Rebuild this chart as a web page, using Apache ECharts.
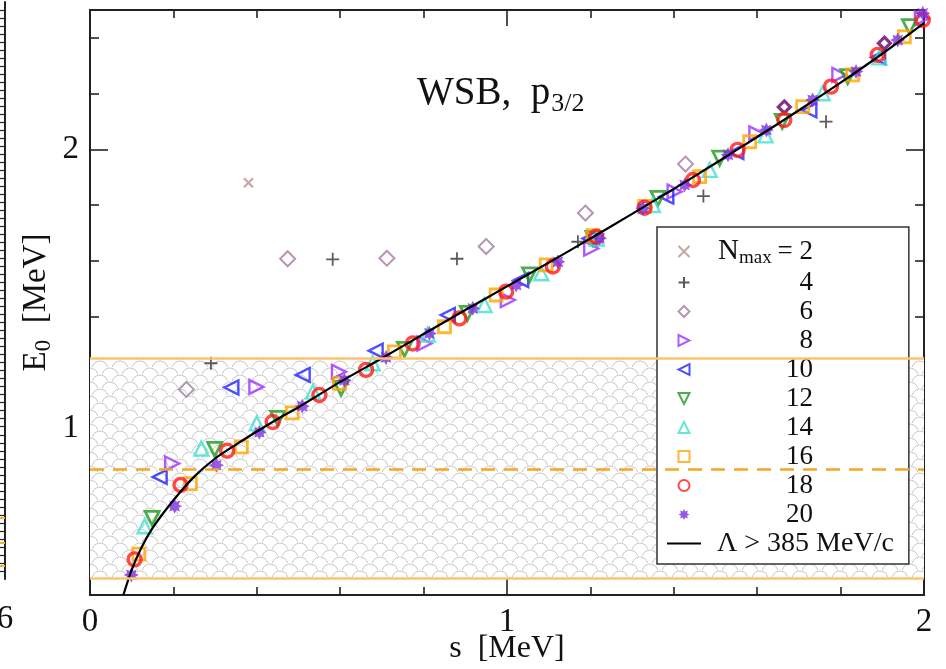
<!DOCTYPE html>
<html>
<head>
<meta charset="utf-8">
<script src="https://cdn.jsdelivr.net/npm/echarts@6/dist/echarts.min.js"></script>
<style>
html, body { margin: 0; padding: 0; background: #fff; }
#chart { width: 946px; height: 669px; }
</style>
</head>
<body>
<div id="chart"></div>
<script>
// points are [s, E0] in MeV, one list per Nmax
const nmax2 = [[0.38, 1.88]]
const nmax4 = [[0.29, 1.232], [0.582, 1.605], [0.88, 1.607], [1.17, 1.668], [1.471, 1.832], [1.765, 2.099]]
const nmax6 = [[0.231, 1.138], [0.474, 1.607], [0.712, 1.609], [0.95, 1.651], [1.188, 1.771], [1.428, 1.947]]
const nmax6b = [[1.665, 2.152], [1.905, 2.381]]
const nmax8 = [[0.197, 0.872], [0.399, 1.147], [0.597, 1.201], [0.802, 1.303], [1.002, 1.459], [1.202, 1.644], [1.402, 1.848], [1.598, 2.057], [1.797, 2.267], [1.995, 2.47]]
const nmax10 = [[0.167, 0.824], [0.339, 1.145], [0.51, 1.19], [0.685, 1.277], [0.858, 1.405], [1.034, 1.531], [1.198, 1.68], [1.382, 1.83], [1.55, 1.99], [1.725, 2.14], [1.89, 2.33]]
const nmax12 = [[0.149, 0.675], [0.299, 0.923], [0.45, 1.034], [0.602, 1.142], [0.754, 1.282], [0.905, 1.411], [1.054, 1.549], [1.206, 1.68], [1.362, 1.824], [1.51, 1.968], [1.66, 2.1], [1.817, 2.261], [1.965, 2.44]]
const nmax14 = [[0.131, 0.647], [0.267, 0.926], [0.4, 1.016], [0.535, 1.13], [0.678, 1.232], [0.81, 1.335], [0.946, 1.441], [1.082, 1.555], [1.215, 1.68], [1.35, 1.8], [1.486, 1.926], [1.62, 2.05], [1.757, 2.201], [1.893, 2.33]]
const nmax16 = [[0.117, 0.547], [0.241, 0.8], [0.363, 0.932], [0.485, 1.054], [0.598, 1.16], [0.73, 1.273], [0.85, 1.363], [0.974, 1.477], [1.094, 1.585], [1.206, 1.69], [1.33, 1.795], [1.462, 1.902], [1.582, 2.027], [1.709, 2.153], [1.829, 2.267], [1.953, 2.404]]
const nmax18 = [[0.107, 0.528], [0.217, 0.795], [0.329, 0.918], [0.438, 1.021], [0.55, 1.118], [0.662, 1.208], [0.774, 1.303], [0.886, 1.393], [0.998, 1.489], [1.11, 1.579], [1.214, 1.686], [1.33, 1.79], [1.446, 1.89], [1.553, 1.998], [1.665, 2.105], [1.777, 2.225], [1.889, 2.339], [1.997, 2.464]]
const nmax20 = [[0.099, 0.472], [0.203, 0.719], [0.303, 0.866], [0.406, 0.984], [0.509, 1.078], [0.61, 1.171], [0.71, 1.253], [0.814, 1.339], [0.918, 1.429], [1.022, 1.513], [1.122, 1.596], [1.222, 1.681], [1.326, 1.788], [1.426, 1.872], [1.53, 1.98], [1.622, 2.069], [1.733, 2.177], [1.837, 2.279], [1.937, 2.392], [1.997, 2.488]]

// Lambda > 385 MeV/c curve
const curveS = [0.08, 0.1, 0.12, 0.15, 0.2, 0.25, 0.3, 0.35, 0.4, 0.45, 0.5, 0.6, 0.7, 0.8, 0.9, 1.0, 1.1, 1.2, 1.3, 1.4, 1.5, 1.6, 1.7, 1.8, 1.9, 2.0]
const curveE = [0.4, 0.49, 0.56, 0.64, 0.74, 0.825, 0.89, 0.94, 0.987, 1.032, 1.074, 1.165, 1.25, 1.337, 1.423, 1.508, 1.593, 1.68, 1.768, 1.858, 1.95, 2.044, 2.14, 2.239, 2.343, 2.453]

// hatched band
const bandLow = 0.46
const bandMid = 0.855
const bandHigh = 1.253

const nmaxLabels = ['2', '4', '6', '8', '10', '12', '14', '16', '18', '20']
const curveLabel = 'Λ > 385 MeV/c'

const xMinorTicks = [0.2, 0.4, 0.6, 0.8, 1.2, 1.4, 1.6, 1.8]
const xMajorTicks = [0, 1, 2]
const yMinorTicks = [0.6, 0.8, 1.2, 1.4, 1.6, 1.8, 2.2, 2.4]
const yMajorTicks = [1, 2]

// bit of the neighbouring panel at the left edge
const panelTicks = []
for (let i = 1; i < 72; i++) panelTicks.push(i)
const panelBands = [1.6, 4.5, 7.7]
const panelLabel = [6]

const FONT = 'Liberation Serif'
const chart = echarts.init(document.getElementById('chart'))

// scallop hatch
const hatch = document.createElement('canvas')
hatch.width = 20
hatch.height = 14
const hc = hatch.getContext('2d')
hc.fillStyle = '#fff'
hc.fillRect(0, 0, 20, 14)
hc.strokeStyle = '#c6c6c6'
hc.lineWidth = 1
;[[10, 12], [0, 5], [20, 5], [10, 26], [0, 19], [20, 19]].forEach(function (c) {
  hc.beginPath()
  hc.arc(c[0], c[1], 8, Math.PI * 1.08, Math.PI * 1.92)
  hc.stroke()
})

// symbols as paths so the legend keeps their shape
let star = 'path://'
for (let i = 0; i < 16; i++) {
  const r = i % 2 === 0 ? 10 : 6
  const a = (Math.PI * i) / 8
  star += (i === 0 ? 'M' : 'L') + (10 + r * Math.sin(a)).toFixed(2) + ',' + (10 - r * Math.cos(a)).toFixed(2) + ' '
}
star += 'Z'
const plus = 'path://M0,5 L10,5 M5,0 L5,10'
const cross = 'path://M0,0 L10,10 M10,0 L0,10'
const triUp = 'path://M5,0 L10,10 L0,10 Z'
const triDown = 'path://M0,0 L10,0 L5,10 Z'
const triLeft = 'path://M10,0 L10,10 L0,5 Z'
const triRight = 'path://M0,0 L10,5 L0,10 Z'
const diam = 'path://M5,0 L10,5 L5,10 L0,5 Z'
const square = 'path://M0,0 L10,0 L10,10 L0,10 Z'
const ring = 'path://M0,5 A5,5 0 1,1 10,5 A5,5 0 1,1 0,5 Z'

function hollow(name, data, symbol, color, size, width) {
  return {
    name: name,
    type: 'scatter',
    data: data,
    symbol: symbol,
    symbolSize: size,
    symbolKeepAspect: true,
    itemStyle: { color: 'rgba(255,255,255,0)', borderColor: color, borderWidth: width },
    z: 3
  }
}

const legendText = {}
nmaxLabels.forEach(function (l, i) {
  legendText['n' + l] = i === 0 ? '{nb|N}{sub|max}{eq|= ' + l + '}' : '{num|' + l + '}'
})
legendText.lam = '{lam|' + curveLabel + '}'

const axisCol = '#222'
function frameX(pos, ticks, len, showLine) {
  return {
    type: 'value', gridIndex: 0, position: pos, min: 0, max: 2,
    axisLine: { show: showLine, onZero: false, lineStyle: { color: axisCol, width: 2 } },
    axisTick: { show: true, inside: true, length: len, customValues: ticks, lineStyle: { color: axisCol, width: 1.6 } },
    axisLabel: { show: false },
    splitLine: { show: false }
  }
}
function frameY(pos, ticks, len, showLine) {
  return {
    type: 'value', gridIndex: 0, position: pos, min: 0.4, max: 2.5,
    axisLine: { show: showLine, onZero: false, lineStyle: { color: axisCol, width: 2 } },
    axisTick: { show: true, inside: true, length: len, customValues: ticks, lineStyle: { color: axisCol, width: 1.6 } },
    axisLabel: { show: false },
    splitLine: { show: false }
  }
}

const xBottom = frameX('bottom', xMinorTicks, 8, true)
xBottom.axisLabel = {
  show: true, customValues: xMajorTicks, margin: 11,
  fontFamily: FONT, fontSize: 33, color: '#111'
}
xBottom.name = 's  [MeV]'
xBottom.nameLocation = 'middle'
xBottom.nameGap = 38
xBottom.nameMoveOverlap = false
xBottom.nameTextStyle = { fontFamily: FONT, fontSize: 32, color: '#111' }

const yLeft = frameY('left', yMinorTicks, 9, true)
yLeft.axisLabel = {
  show: true, customValues: yMajorTicks, margin: 11,
  fontFamily: FONT, fontSize: 33, color: '#111'
}
yLeft.name = '{a|E}{b|0}{a|  [MeV]}'
yLeft.nameLocation = 'middle'
yLeft.nameGap = 35
yLeft.nameMoveOverlap = false
yLeft.nameTextStyle = {
  rich: {
    a: { fontFamily: FONT, fontSize: 33, color: '#111' },
    b: { fontFamily: FONT, fontSize: 23, color: '#111', padding: [14, 0, 0, 0] }
  }
}

const option = {
  backgroundColor: '#fff',
  animation: false,
  title: {
    text: '{a|WSB,  p}{b|3/2}',
    left: 412,
    top: 65,
    textStyle: {
      rich: {
        a: { fontFamily: FONT, fontSize: 39, fontWeight: 'normal', color: '#111' },
        b: { fontFamily: FONT, fontSize: 26, fontWeight: 'normal', color: '#111', padding: [21, 0, 0, 1] }
      }
    }
  },
  grid: [
    { left: 90, right: 22, top: 10, bottom: 74, outerBoundsMode: 'none' },
    { left: 0, width: 5, top: 2, height: 577, outerBoundsMode: 'none' }
  ],
  legend: {
    orient: 'vertical',
    left: 657,
    top: 227,
    data: ['n2', 'n4', 'n6', 'n8', 'n10', 'n12', 'n14', 'n16', 'n18', 'n20', { name: 'lam', itemStyle: { opacity: 0 } }],
    itemWidth: 34,
    itemHeight: 11,
    itemGap: 0,
    padding: [8, 15, 6, 9],
    borderColor: '#333',
    borderWidth: 1.5,
    backgroundColor: '#fff',
    formatter: function (name) { return legendText[name] },
    textStyle: {
      fontFamily: FONT,
      fontSize: 27,
      color: '#111',
      lineHeight: 29,
      rich: {
        nb: { fontFamily: FONT, fontSize: 29, color: '#111', width: 20, padding: [0, 0, 0, 12], lineHeight: 29 },
        sub: { fontFamily: FONT, fontSize: 19, color: '#111', width: 33, padding: [14, 0, 0, 1], lineHeight: 29 },
        eq: { fontFamily: FONT, fontSize: 27, color: '#111', width: 41, align: 'right', lineHeight: 29 },
        num: { fontFamily: FONT, fontSize: 27, color: '#111', width: 107, align: 'right', lineHeight: 29 },
        lam: { fontFamily: FONT, fontSize: 28, color: '#111', padding: [0, 0, 0, 11], lineHeight: 29 }
      }
    }
  },
  xAxis: [
    xBottom,
    frameX('bottom', xMajorTicks, 16, false),
    frameX('top', xMinorTicks, 8, true),
    frameX('top', xMajorTicks, 16, false),
    {
      type: 'value', gridIndex: 1, min: 0, max: 6,
      axisLine: { show: false, onZero: false },
      axisTick: { show: false },
      axisLabel: { show: true, customValues: panelLabel, margin: 24, fontFamily: FONT, fontSize: 33, color: '#111' },
      splitLine: { show: false }
    }
  ],
  yAxis: [
    yLeft,
    frameY('left', yMajorTicks, 18, false),
    frameY('right', yMinorTicks, 9, true),
    frameY('right', yMajorTicks, 18, false),
    {
      type: 'value', gridIndex: 1, position: 'right', min: 0, max: 72,
      axisLine: { show: true, onZero: false, lineStyle: { color: axisCol, width: 2 } },
      axisTick: { show: true, inside: true, length: 5, customValues: panelTicks, lineStyle: { color: axisCol, width: 1.2 } },
      axisLabel: { show: false },
      splitLine: { show: false }
    }
  ],
  series: [
    {
      name: 'band',
      type: 'line',
      data: [],
      silent: true,
      z: 1,
      markArea: {
        silent: true,
        itemStyle: { color: { image: hatch, repeat: 'repeat' } },
        data: [[{ yAxis: bandLow }, { yAxis: bandHigh }]]
      },
      markLine: {
        silent: true,
        symbol: 'none',
        label: { show: false },
        data: [
          { yAxis: bandHigh, lineStyle: { color: '#fcc470', width: 2.5, type: 'solid' } },
          { yAxis: bandLow, lineStyle: { color: '#fcc470', width: 2.5, type: 'solid' } },
          { yAxis: bandMid, lineStyle: { color: '#f5a623', width: 2.5, type: [14, 9] } }
        ]
      }
    },
    {
      name: 'panel',
      type: 'line',
      xAxisIndex: 4,
      yAxisIndex: 4,
      data: [],
      silent: true,
      markLine: {
        silent: true,
        symbol: 'none',
        label: { show: false },
        lineStyle: { color: '#f5b040', width: 2, type: 'solid' },
        data: panelBands.map(function (v) { return { yAxis: v } })
      }
    },
    hollow('n2', nmax2, cross, '#bc8f8f', 9, 2.2),
    hollow('n4', nmax4, plus, '#333', 13, 1.8),
    hollow('n6', nmax6, diam, '#a47aa4', 15, 2),
    hollow('n6', nmax6b, diam, '#660066', 12, 3.2),
    hollow('n8', nmax8, triRight, '#9b30ff', 14, 2.4),
    hollow('n10', nmax10, triLeft, '#2222ff', 14, 2.4),
    hollow('n12', nmax12, triDown, '#1e9a1e', 14, 2.8),
    hollow('n14', nmax14, triUp, '#40e0d0', 14, 2.4),
    hollow('n16', nmax16, square, '#ffa500', 12, 2.8),
    hollow('n18', nmax18, ring, '#ff1a1a', 13, 3.4),
    {
      name: 'n20',
      type: 'scatter',
      data: nmax20,
      symbol: star,
      symbolSize: 15,
      symbolKeepAspect: true,
      itemStyle: { color: '#7d2fe0' },
      z: 3
    },
    {
      name: 'lam',
      type: 'line',
      data: curveS.map(function (s, i) { return [s, curveE[i]] }),
      symbol: 'none',
      smooth: 0.3,
      itemStyle: { color: '#000' },
      lineStyle: { color: '#000', width: 2.2 },
      z: 4
    }
  ]
}

chart.setOption(option)
</script>
</body>
</html>
